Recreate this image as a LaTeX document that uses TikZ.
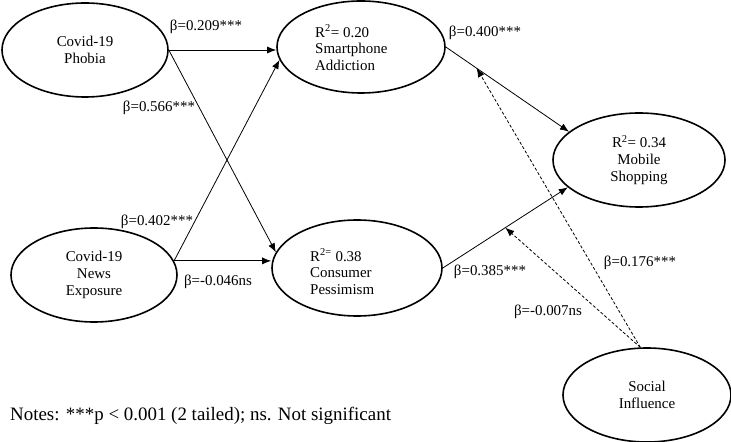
\documentclass[tikz,border=0pt]{standalone}
\usepackage{fontspec}
\setmainfont{Liberation Serif}
\usetikzlibrary{shapes.geometric,arrows.meta}
\begin{document}
\begin{tikzpicture}[x=1bp,y=-1bp,
  ell/.style={ellipse,draw,line width=1.6bp,inner sep=0pt,align=center,font=\fontsize{15}{17}\selectfont},
  lbl/.style={font=\fontsize{15}{17}\selectfont,inner sep=0pt},
  arr/.style={line width=0.8bp,-{Latex[length=9bp,width=7bp]}},
  dsh/.style={arr,dash pattern=on 3bp off 2bp}]
\useasboundingbox (0,0) rectangle (731,442);
% nodes
\node[ell,minimum width=166bp,minimum height=94bp] (ph) at (85,50) {Covid-19\\Phobia};
\node[ell,minimum width=168bp,minimum height=92bp] (sa) at (361,47) {};
\node[lbl,align=left,anchor=west] (satxt) at (315,48) {R\textsuperscript{2}= 0.20\\Smartphone\\Addiction};
\node[ell,minimum width=172bp,minimum height=94bp] (ms) at (639,160) {R\textsuperscript{2}= 0.34\\Mobile\\Shopping};
\node[ell,minimum width=166bp,minimum height=94bp] (ne) at (94,275) {Covid-19\\News\\Exposure};
\node[ell,minimum width=170bp,minimum height=96bp] (cp) at (357,268) {};
\node[lbl,align=left,anchor=west] (cptxt) at (310,272) {R\textsuperscript{2=} 0.38\\Consumer\\Pessimism};
\node[ell,minimum width=168bp,minimum height=94bp] (si) at (647,395) {Social\\Influence};
% connectors
\draw[arr] (ph.east) -- (ph.east -| sa.west);
\draw[arr] (ph.east) -- (cp.169);
\draw[arr] (ne.10) -- (sa.189);
\draw[arr] (ne.10) -- (ne.10 -| cp.west);
\draw[arr] (sa.east) -- coordinate[pos=0.25] (m1) (ms.158);
\draw[arr] (cp.east) -- coordinate[pos=0.5] (m2) (ms.201);
\draw[dsh] (si.98) -- (m1);
\draw[dsh] (si.98) -- (m2);
% labels
\node[lbl] (b209) at (206,27) {β=0.209***};
\node[lbl] (b566) at (159,108) {β=0.566***};
\node[lbl] (b402) at (157,222) {β=0.402***};
\node[lbl] (b046) at (218,282) {β=-0.046ns};
\node[lbl] (b400) at (485,33) {β=0.400***};
\node[lbl] (b385) at (490,272) {β=0.385***};
\node[lbl] (b176) at (640,263) {β=0.176***};
\node[lbl] (b007) at (548,312) {β=-0.007ns};
\node[lbl,anchor=base west,font=\fontsize{19}{22}\selectfont] (notes) at (10,420) {Notes: ***p {\textless} 0.001 (2 tailed); ns. Not significant};
\end{tikzpicture}
\end{document}
